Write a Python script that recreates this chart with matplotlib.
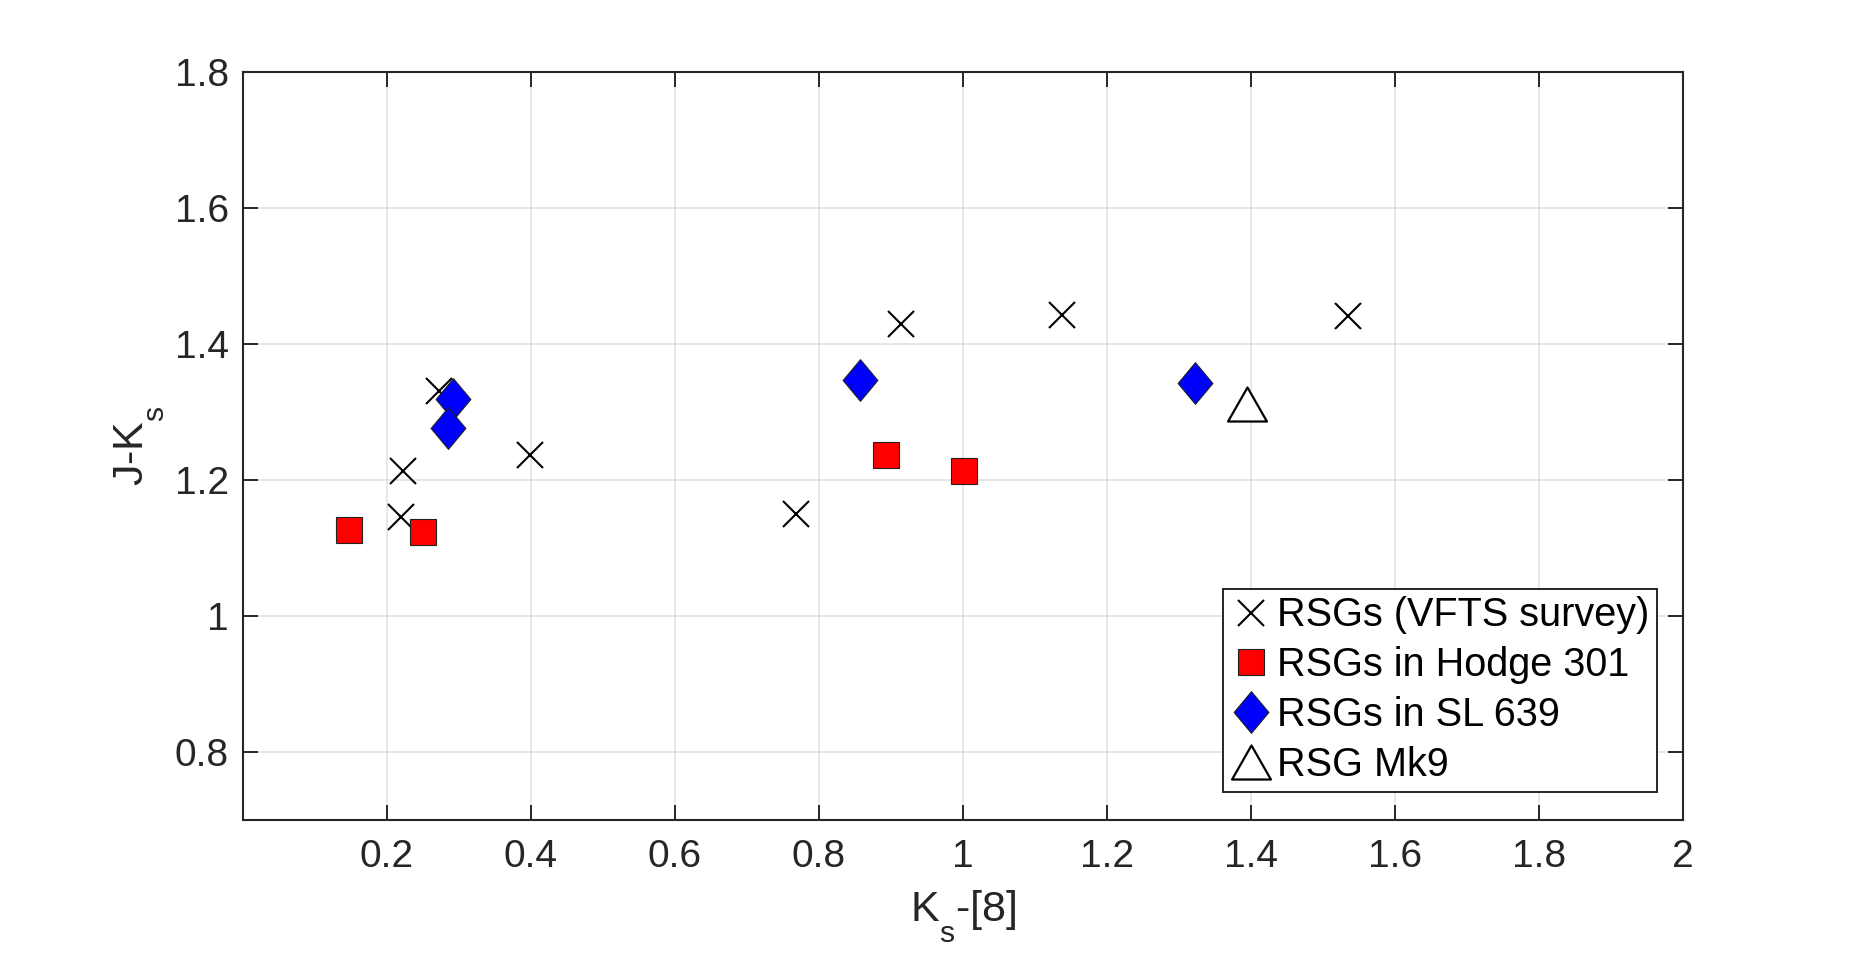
import matplotlib
matplotlib.use("Agg")
import matplotlib.pyplot as plt
from matplotlib.path import Path

# ---- data ----
vfts_x = [0.273, 0.222, 0.219, 0.399, 0.768, 0.914, 1.138, 1.535]
vfts_y = [1.331, 1.213, 1.145, 1.236, 1.150, 1.429, 1.443, 1.441]

hodge_x = [0.148, 0.250, 0.893, 1.002]
hodge_y = [1.127, 1.124, 1.236, 1.213]

sl639_x = [0.292, 0.285, 0.857, 1.323]
sl639_y = [1.319, 1.276, 1.347, 1.342]

mk9_x = [1.394]
mk9_y = [1.312]

labels = ["RSGs (VFTS survey)", "RSGs in Hodge 301", "RSGs in SL 639", "RSG Mk9"]
xticks = [0.2, 0.4, 0.6, 0.8, 1.0, 1.2, 1.4, 1.6, 1.8, 2.0]
xticklabels = ["0.2", "0.4", "0.6", "0.8", "1", "1.2", "1.4", "1.6", "1.8", "2"]
yticks = [0.8, 1.0, 1.2, 1.4, 1.6, 1.8]
yticklabels = ["0.8", "1", "1.2", "1.4", "1.6", "1.8"]

plt.rcParams["font.family"] = ["Liberation Sans", "DejaVu Sans"]
plt.rcParams["mathtext.default"] = "regular"
AX = "#262626"

# matlab drops subscripts a lot lower than mathtext does
try:
    import matplotlib._mathtext as _mt
    _mt.FontConstantsBase.sub1 = 0.95
except Exception as e:
    print("subscript tweak skipped:", e)

# matlab-ish markers: tall diamond and slightly flat triangle
diamond = Path([(0, 1), (0.833, 0), (0, -1), (-0.833, 0), (0, 1)],
               [Path.MOVETO, Path.LINETO, Path.LINETO, Path.LINETO, Path.CLOSEPOLY])
triangle = Path([(0, 0.4375), (0.5, -0.4375), (-0.5, -0.4375), (0, 0.4375)],
                [Path.MOVETO, Path.LINETO, Path.LINETO, Path.CLOSEPOLY])

fig = plt.figure(figsize=(18.6, 9.56), dpi=100)
ax = fig.add_axes([0.1306, 0.1423, 0.9048 - 0.1306, 0.9247 - 0.1423])

ax.grid(True, color="#e2e2e2", lw=1.2, zorder=0)
ax.set_axisbelow(True)

ax.plot(vfts_x, vfts_y, ls="none", marker="x", ms=18.5, mew=1.5, color="k",
        label=labels[0], zorder=3)
ax.plot(hodge_x, hodge_y, ls="none", marker="s", ms=19, mew=0.8, mfc="red",
        mec="#202020", label=labels[1], zorder=3)
ax.plot(sl639_x, sl639_y, ls="none", marker=diamond, ms=30, mew=0.8, mfc="blue",
        mec="#202020", label=labels[2], zorder=3)
ax.plot(mk9_x, mk9_y, ls="none", marker=triangle, ms=28, mew=1.6, mfc="white",
        mec="k", label=labels[3], zorder=3)

ax.set_xlim(0, 2)
ax.set_ylim(0.7, 1.8)
ax.set_xticks(xticks)
ax.set_xticklabels(xticklabels)
ax.set_yticks(yticks)
ax.set_yticklabels(yticklabels)
ax.tick_params(direction="in", length=11, width=1.4, colors=AX, labelsize=28,
               top=True, right=True)
ax.tick_params(axis="x", pad=14)
ax.tick_params(axis="y", pad=10)
for sp in ax.spines.values():
    sp.set_color(AX)
    sp.set_linewidth(1.5)

ax.set_xlabel("K$_s$-[8]", fontsize=31, color=AX, labelpad=9)
ax.set_ylabel("J-K$_s$", fontsize=31, color=AX, labelpad=6)

leg = ax.legend(loc="lower right", bbox_to_anchor=(0.982, 0.0374), borderaxespad=0,
                fontsize=28.5, fancybox=False, framealpha=1, edgecolor=AX,
                borderpad=0.2, handlelength=1.0, handletextpad=0.15,
                labelspacing=0.3, numpoints=1)
leg.get_frame().set_linewidth(1.4)
for t in leg.get_texts():
    t.set_color("k")

fig.savefig("out.png", dpi=100, facecolor="white")
